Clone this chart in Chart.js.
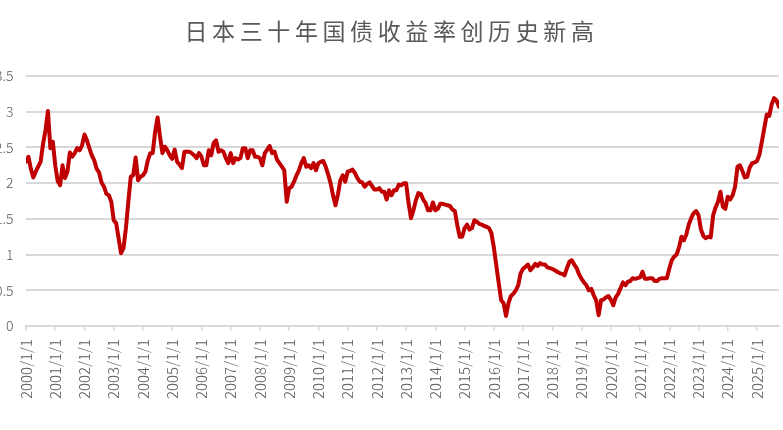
<!DOCTYPE html>
<html><head><meta charset="utf-8">
<script src="https://cdn.jsdelivr.net/npm/chart.js@4"></script>
<style>html,body{margin:0;padding:0;background:#fff;}#wrap{width:783px;height:430px;position:relative;}</style>
</head><body><div id="wrap"><canvas id="c" width="783" height="430"></canvas></div>
<script>
const chartTitle = '日本三十年国债收益率创历史新高';
const startYear = 2000;
// monthly 30Y JGB yield (%), 2000/1 .. 2025/10
const yieldValues = [
 2.30,2.37,2.20,2.08,2.16,2.23,2.30,2.55,2.74,3.01,2.49,2.58,
 2.25,2.03,1.97,2.25,2.07,2.16,2.43,2.37,2.42,2.49,2.46,2.53,
 2.68,2.60,2.49,2.39,2.32,2.20,2.15,2.01,1.95,1.85,1.83,1.74,
 1.48,1.44,1.23,1.02,1.09,1.37,1.74,2.09,2.11,2.36,2.04,2.09,
 2.11,2.16,2.32,2.42,2.42,2.72,2.92,2.65,2.42,2.51,2.46,2.39,
 2.34,2.47,2.30,2.26,2.21,2.44,2.44,2.44,2.42,2.39,2.35,2.42,
 2.37,2.25,2.25,2.46,2.39,2.56,2.60,2.44,2.46,2.44,2.35,2.28,
 2.42,2.28,2.35,2.33,2.35,2.49,2.49,2.35,2.46,2.46,2.37,2.37,
 2.35,2.25,2.42,2.47,2.52,2.42,2.44,2.33,2.28,2.23,2.18,1.74,
 1.93,1.95,2.02,2.11,2.18,2.28,2.35,2.23,2.25,2.21,2.28,2.18,
 2.28,2.30,2.31,2.23,2.12,2.00,1.83,1.69,1.84,2.04,2.11,2.02,
 2.16,2.17,2.19,2.14,2.07,2.02,2.01,1.95,1.99,2.01,1.96,1.91,
 1.91,1.93,1.88,1.88,1.77,1.90,1.83,1.90,1.90,1.98,1.97,2.00,
 2.00,1.72,1.51,1.62,1.76,1.86,1.85,1.77,1.72,1.62,1.62,1.73,
 1.62,1.64,1.71,1.71,1.70,1.69,1.68,1.63,1.61,1.41,1.25,1.25,
 1.37,1.42,1.35,1.37,1.48,1.46,1.43,1.42,1.40,1.39,1.37,1.30,
 1.10,0.85,0.60,0.36,0.32,0.14,0.32,0.42,0.45,0.50,0.57,0.74,
 0.80,0.83,0.86,0.78,0.82,0.87,0.84,0.88,0.86,0.86,0.82,0.81,
 0.80,0.78,0.76,0.74,0.73,0.71,0.81,0.90,0.92,0.86,0.81,0.72,
 0.66,0.61,0.57,0.50,0.52,0.43,0.36,0.15,0.36,0.37,0.40,0.42,
 0.37,0.29,0.40,0.45,0.53,0.61,0.57,0.62,0.63,0.67,0.66,0.67,
 0.68,0.76,0.66,0.66,0.67,0.67,0.63,0.63,0.66,0.67,0.67,0.67,
 0.80,0.92,0.97,1.00,1.10,1.25,1.20,1.28,1.42,1.51,1.58,1.61,
 1.55,1.35,1.26,1.23,1.25,1.24,1.55,1.66,1.74,1.88,1.67,1.64,
 1.81,1.77,1.83,1.95,2.23,2.25,2.17,2.08,2.09,2.22,2.28,2.29,
 2.31,2.40,2.58,2.77,2.96,2.94,3.10,3.19,3.16,3.07
];
const dates = yieldValues.map((v, i) => `${startYear + Math.floor(i / 12)}/${i % 12 + 1}/1`);
const yTickValues = [0, 0.5, 1, 1.5, 2, 2.5, 3, 3.5];
const xTickYears = Array.from({length: 26}, (_, i) => startYear + i);

function dateToNum(s) { const [y, m] = s.split('/').map(Number); return y + (m - 1) / 12; }
const points = dates.map((d, i) => ({x: dateToNum(d), y: yieldValues[i]}));

const titleSpacing = {
  id: 'titleSpacing',
  afterInit(chart) {
    const tb = chart.titleBlock;
    if (!tb) return;
    const orig = tb.draw.bind(tb);
    tb.draw = function () {
      const ctx = this.ctx;
      ctx.save();
      ctx.letterSpacing = '4.6px';
      orig();
      ctx.restore();
    };
  }
};

const tickFont = {family: "'Noto Sans CJK SC', 'Noto Sans', sans-serif", weight: '300'};

new Chart(document.getElementById('c'), {
  type: 'line',
  data: {
    datasets: [{
      data: points,
      borderColor: '#c00000',
      borderWidth: 4,
      pointRadius: 0,
      tension: 0,
      borderJoinStyle: 'round',
      borderCapStyle: 'round'
    }]
  },
  options: {
    responsive: false,
    animation: false,
    devicePixelRatio: 1,
    layout: {padding: 0},
    plugins: {
      legend: {display: false},
      tooltip: {enabled: false},
      title: {
        display: true,
        text: chartTitle,
        color: '#595959',
        font: {family: "'Noto Sans CJK SC', sans-serif", size: 23, weight: '400', lineHeight: 1.2},
        padding: {top: 17, bottom: 31.4}
      }
    },
    scales: {
      x: {
        type: 'linear',
        min: dateToNum(dates[0]),
        max: dateToNum(dates[dates.length - 1]),
        afterBuildTicks: s => { s.ticks = xTickYears.map(v => ({value: v})); },
        afterFit: s => { s.height = 104; },
        ticks: {
          autoSkip: false,
          maxRotation: 90,
          minRotation: 90,
          padding: 8,
          color: '#595959',
          font: Object.assign({size: 15}, tickFont),
          callback: v => `${v}/1/1`
        },
        grid: {drawOnChartArea: false, drawTicks: true, tickLength: 5, color: '#d9d9d9', lineWidth: 1.5},
        border: {display: true, color: '#d9d9d9', width: 2}
      },
      y: {
        min: 0,
        max: 3.5,
        afterBuildTicks: s => { s.ticks = yTickValues.map(v => ({value: v})); },
        afterFit: s => { s.width = 26; },
        ticks: {
          padding: 12.5,
          color: '#595959',
          font: Object.assign({size: 14}, tickFont),
          callback: v => String(v)
        },
        grid: {drawTicks: false, color: '#d9d9d9', lineWidth: 2},
        border: {display: false}
      }
    }
  },
  plugins: [titleSpacing]
});
</script></body></html>
